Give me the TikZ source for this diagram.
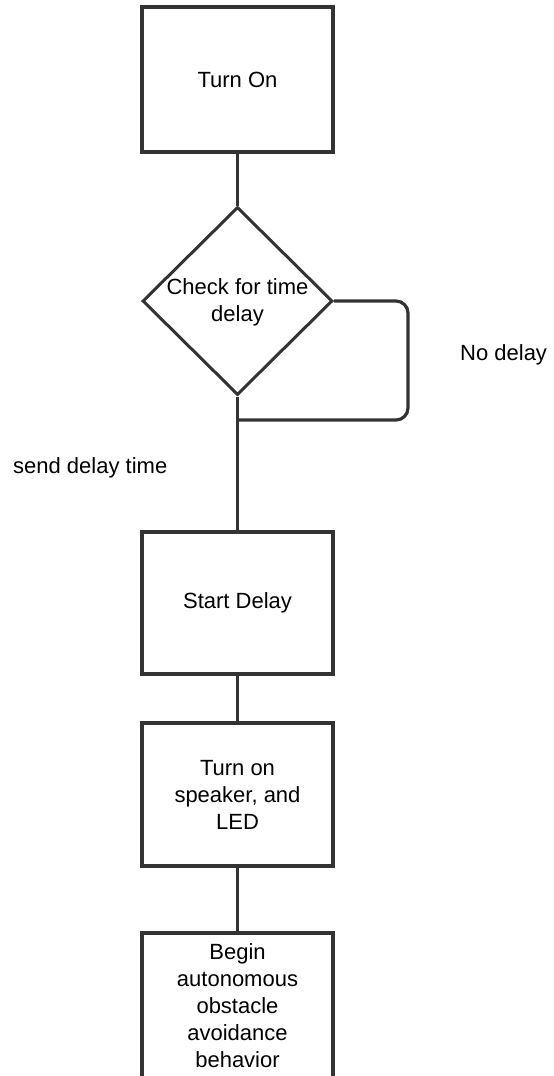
\documentclass[tikz,border=0pt]{standalone}
\usepackage{fontspec}
\setmainfont{Liberation Sans}
\usetikzlibrary{shapes.geometric}
\definecolor{ink}{HTML}{333333}
\tikzset{
  stepbox/.style={draw=ink, line width=3.4pt, fill=white, minimum width=191pt, minimum height=143pt,
    inner sep=0pt, align=center, text=black},
  decision/.style={draw=ink, line width=3pt, diamond, minimum width=190pt, minimum height=188pt, inner sep=0pt},
  txt/.style={font=\fontsize{22}{27}\selectfont, text=black, align=center, inner sep=0pt},
  link/.style={draw=ink, line width=3.2pt},
}
\begin{document}
\begin{tikzpicture}[x=1pt, y=-1pt]
  \useasboundingbox[fill=white] (0,0) rectangle (554,1076);

  % process steps
  \node[stepbox, txt, minimum width=191pt, minimum height=145pt] (on) at (237.5,79.5) {Turn On};
  \node[decision] (chk) at (237.5,301) {};
  \node[txt] (chktext) at (237.5,302) {Check for time\\delay};
  \node[stepbox, txt, minimum height=142pt] (delay) at (237.5,603) {Start Delay};
  \node[stepbox, txt] (alarm) at (237.5,794.5) {Turn on\\speaker, and\\LED};
  \node[stepbox, txt, minimum height=147pt] (auto) at (237.5,1006.5) {};
  \node[txt] (autotext) at (237.5,1006) {Begin\\autonomous\\obstacle\\avoidance\\behavior};

  % branch labels
  \node[txt, anchor=west] (nodelay) at (460,355) {No delay};
  \node[txt, anchor=west] (senddelay) at (13,468) {send delay time};

  % connectors
  \coordinate (join) at (237.5,420);
  \draw[link] (on.south) -- (chk.north);
  \draw[link] (chk.south) -- (delay.north);
  \draw[link] (delay.south) -- (alarm.north);
  \draw[link] (alarm.south) -- (auto.north);
  \draw[link, rounded corners=12pt] (chk.east) -- (408,301) -- (408,420) -- (join);
\end{tikzpicture}
\end{document}
